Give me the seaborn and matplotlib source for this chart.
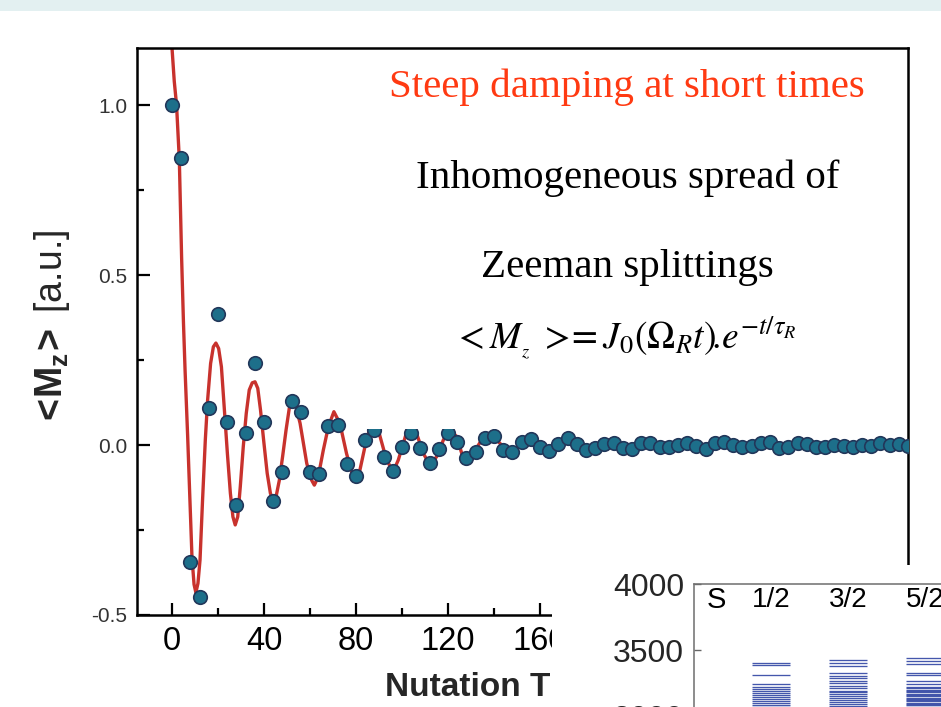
import matplotlib
matplotlib.use("Agg")
import matplotlib.pyplot as plt
from matplotlib.patches import Rectangle
import numpy as np
import pandas as pd
import seaborn as sns

# ---------------- data ----------------
t_data = [0, 4, 8, 12, 16, 20, 24, 28, 32, 36, 40, 44, 48, 52, 56, 60, 64, 68, 72, 76,
          80, 84, 88, 92, 96, 100, 104, 108, 112, 116, 120, 124, 128, 132, 136, 140,
          144, 148, 152, 156, 160, 164, 168, 172, 176, 180, 184, 188, 192, 196, 200,
          204, 208, 212, 216, 220, 224, 228, 232, 236, 240, 244, 248, 252, 256, 260,
          264, 268, 272, 276, 280, 284, 288, 292, 296, 300, 304, 308, 312, 316, 320]
mz_data = [1.000, 0.844, -0.343, -0.446, 0.110, 0.385, 0.069, -0.176, 0.034, 0.240,
           0.067, -0.164, -0.080, 0.130, 0.098, -0.080, -0.086, 0.055, 0.059, -0.056,
           -0.091, 0.016, 0.045, -0.035, -0.075, -0.005, 0.035, -0.009, -0.052, -0.012,
           0.035, 0.008, -0.039, -0.020, 0.021, 0.027, -0.015, -0.020, 0.010, 0.017,
           -0.006, -0.017, 0.004, 0.021, 0.004, -0.015, -0.008, 0.003, 0.007, -0.010,
           -0.013, 0.005, 0.005, -0.007, -0.007, 0.000, 0.005, -0.003, -0.013, 0.005,
           0.010, 0.000, -0.007, -0.003, 0.007, 0.010, -0.010, -0.005, 0.005, 0.003,
           -0.005, -0.007, 0.000, -0.003, -0.005, 0.000, -0.003, 0.005, 0.000, 0.003,
           -0.003]

t_fit = [-0.5, 0, 1, 2, 3.2, 4.2, 5, 5.7, 6.8, 7.8, 8.7, 9.6, 10.4, 11.3, 12.2, 13.3,
         14.5, 15.5, 16.8, 18.0, 19.1, 20.3, 21.5, 22.8, 24.1, 25.4, 26.5, 27.5, 28.6,
         29.7, 31.0, 32.3, 33.6, 34.9, 36.1, 37.3, 38.5, 40.0, 41.4, 42.8, 44.0, 45.4,
         46.7, 48.1, 49.6, 51.0, 52.5, 53.9, 55.7, 57.4, 58.6, 60.7, 61.9, 63.6, 65.8,
         68.0, 70.4, 73.0, 75.9, 78.1, 79.9, 81.7, 83.9, 86, 87.8, 89.7, 93.3, 96.2,
         98.4, 100.6, 102.3, 104.2, 106.1, 109.3, 112.2, 115.1, 118, 120.9, 123.8, 126,
         128.1, 131, 134.6, 139, 142.6, 147.7, 152, 155.7, 160, 164.6, 168.7, 171.9,
         176, 180.3, 184.6, 190.4, 195, 199, 203, 207, 211.5, 215.7, 220, 224.5, 228.5,
         232.5, 236, 239.7, 244, 248.4, 253, 258.5, 262, 265, 270, 274, 279, 284.6, 288,
         291, 296, 300, 303, 306, 311, 316, 320]
mz_fit = [1.22, 1.17, 1.07, 1.00, 0.84, 0.55, 0.36, 0.22, 0.03, -0.16, -0.33, -0.41,
          -0.434, -0.407, -0.338, -0.162, 0.015, 0.132, 0.240, 0.289, 0.300, 0.284,
          0.230, 0.103, -0.025, -0.142, -0.211, -0.235, -0.211, -0.123, -0.005, 0.093,
          0.162, 0.183, 0.186, 0.167, 0.103, 0.005, -0.083, -0.142, -0.162, -0.147,
          -0.103, -0.034, 0.044, 0.108, 0.127, 0.113, 0.064, -0.005, -0.054, -0.103,
          -0.118, -0.093, -0.015, 0.054, 0.098, 0.064, -0.025, -0.078, -0.093, -0.074,
          -0.005, 0.050, 0.070, 0.044, -0.044, -0.078, -0.044, 0.005, 0.044, 0.055,
          0.039, -0.025, -0.059, -0.034, 0.015, 0.044, 0.025, -0.025, -0.044, -0.025,
          0.015, 0.029, 0.005, -0.032, 0.005, 0.023, 0.000, -0.025, 0.005, 0.025,
          0.005, -0.017, -0.003, 0.013, 0.000, -0.016, 0.000, 0.012, 0.000, -0.014,
          0.000, 0.011, 0.000, -0.012, 0.000, 0.011, 0.000, -0.010, 0.000, 0.010,
          0.000, -0.009, 0.000, 0.008, 0.000, -0.008, 0.000, 0.006, 0.000, -0.006,
          0.000, 0.006, 0.000, -0.005, 0.000]

x_ticks = [0, 40, 80, 120, 160, 200, 240, 280, 320]
# ticks beyond 160 lie under the pasted second figure, so they carry no label
x_tick_labels = ["0", "40", "80", "120", "160", "", "", "", ""]
y_ticks = [-0.5, 0.0, 0.5, 1.0]
y_tick_labels = ["-0.5", "0.0", "0.5", "1.0"]

# inset: energy levels (cm^-1) for each spin S
spin_labels = ["1/2", "3/2", "5/2"]
levels_half = [3404, 3384, 3310, 3242, 3222, 3204, 3189, 3172, 3157, 3142, 3127, 3111,
               3096, 3081, 3066, 3052, 3038, 3024]
levels_3half = [3424, 3404, 3382, 3323, 3303, 3285, 3267, 3247, 3227, 3210, 3192, 3182,
                3167, 3152, 3137, 3122, 3107, 3092, 3077, 3062, 3047, 3032]
levels_5half = [3437, 3417, 3394, 3328, 3310, 3267, 3242, 3222, 3210, 3200, 3190, 3180,
                3170, 3160, 3150, 3140, 3130, 3120, 3110, 3100, 3090, 3080, 3070, 3060,
                3050, 3040, 3030]
inset_ticks = [3000, 3500, 4000]

# ---------------- figure ----------------
sns.set_theme(style="ticks")
plt.rcParams["font.family"] = ["Liberation Sans", "DejaVu Sans"]
plt.rcParams["mathtext.fontset"] = "custom"
plt.rcParams["mathtext.rm"] = "Liberation Sans"
plt.rcParams["mathtext.bf"] = "Liberation Sans:bold"
plt.rcParams["mathtext.it"] = "Liberation Sans:italic"

W, H = 941, 707
fig = plt.figure(figsize=(W / 100, H / 100), dpi=100)
fig.patch.set_facecolor("white")

def fx(px):
    return px / W

def fy(py):
    return 1 - py / H

# light band at the very top
fig.patches.append(Rectangle((0, fy(11)), 1, 11 / H, transform=fig.transFigure,
                             facecolor="#e3f0f1", edgecolor="none", zorder=0))

ax = fig.add_axes([fx(137), fy(615), fx(908 - 137), (615 - 48) / H])
ax.set_facecolor("white")

df_pts = pd.DataFrame({"t": t_data, "mz": mz_data})
df_fit = pd.DataFrame({"t": t_fit, "mz": mz_fit})

sns.lineplot(data=df_fit, x="t", y="mz", ax=ax, color="#c8322d", lw=2.4,
             estimator=None, zorder=2)
sns.scatterplot(data=df_pts, x="t", y="mz", ax=ax, s=95, color="#1d6f8a",
                edgecolor="#22375a", linewidth=1.2, zorder=3)

ax.set_xlim(-15.2, 320)
ax.set_ylim(-0.5, 1.168)
ax.set_xticks(x_ticks)
ax.set_xticklabels(x_tick_labels)
ax.set_xticks([20, 60, 100, 140, 180, 220, 260, 300], minor=True)
ax.set_yticks(y_ticks)
ax.set_yticklabels(y_tick_labels)
ax.set_yticks([-0.25, 0.25, 0.75], minor=True)
ax.tick_params(axis="both", which="major", direction="in", length=9, width=1.6,
               color="black")
ax.tick_params(axis="both", which="minor", direction="in", length=5, width=1.6,
               color="black")
ax.tick_params(axis="x", which="major", labelsize=23.5, pad=8, labelcolor="black")
ax.tick_params(axis="y", which="major", labelsize=15, pad=7, labelcolor="#333333")
for sp in ax.spines.values():
    sp.set_linewidth(1.8)
    sp.set_color("black")

ax.set_xlabel("Nutation Time", fontsize=24, fontweight="bold")
ax.xaxis.set_label_coords((385 - 137) / (908 - 137), -(688 - 615) / (615 - 48))
ax.xaxis.label.set_horizontalalignment("left")
ax.xaxis.label.set_verticalalignment("center")
ax.set_ylabel(r"$\mathbf{<\!M_z\!>}$ [a.u.]", fontsize=27)
ax.yaxis.set_label_coords(-(137 - 72) / (908 - 137), (615 - 328) / (615 - 48))

# white panel carrying the explanatory text
ax.add_patch(Rectangle((fx(355), fy(429)), fx(901 - 355), (429 - 52) / H,
                       transform=fig.transFigure, facecolor="white",
                       edgecolor="none", zorder=5, clip_on=False))
serif = ["Liberation Serif", "DejaVu Serif"]
fig.text(fx(627), fy(97), "Steep damping at short times", ha="center",
         va="baseline", fontsize=29.5, color="#ff3a12", family=serif, zorder=6)
fig.text(fx(628), fy(188), "Inhomogeneous spread of", ha="center", va="baseline",
         fontsize=29.5, color="black", family=serif, zorder=6)
fig.text(fx(627), fy(277), "Zeeman splittings", ha="center", va="baseline",
         fontsize=29.5, color="black", family=serif, zorder=6)
fig.text(fx(625), fy(350),
         r"$<M_{_{z}}\;>\!\!=J_0(\Omega_R t)\!.\!e^{-t/\tau_R}$",
         ha="center", va="baseline", fontsize=27, color="black",
         math_fontfamily="stix", zorder=6)

# white cover holding the second (inset) figure
cover = fig.add_axes([fx(552), 0, 1 - fx(552), (707 - 565) / H], zorder=10)
cover.set_facecolor("white")
cover.set_xticks([])
cover.set_yticks([])
for sp in cover.spines.values():
    sp.set_visible(False)

ins = fig.add_axes([fx(694), fy(782), 308 / W, (782 - 584) / H], zorder=11)
ins.set_facecolor("white")
ins.set_xlim(0, 4)
ins.set_ylim(2500, 4000)
bar_half = 0.253
for i, levels in enumerate([levels_half, levels_3half, levels_5half]):
    ins.hlines(levels, i + 1 - bar_half, i + 1 + bar_half, color="#3a4ea8",
               lw=0.95, alpha=0.95)
    ins.text(i + 1, 3879, spin_labels[i], ha="center", va="center", fontsize=20,
             color="black")
ins.text(0.29, 3879, "S", ha="center", va="center", fontsize=21, color="black")
ins.set_xticks([])
ins.set_yticks(inset_ticks)
ins.set_yticklabels([str(v) for v in inset_ticks])
ins.tick_params(axis="y", direction="in", length=5, width=1, color="#666666",
                labelsize=23, pad=7)
for sp in ins.spines.values():
    sp.set_color("#6e6e6e")
    sp.set_linewidth(1.1)

fig.savefig("out.png", dpi=100)
